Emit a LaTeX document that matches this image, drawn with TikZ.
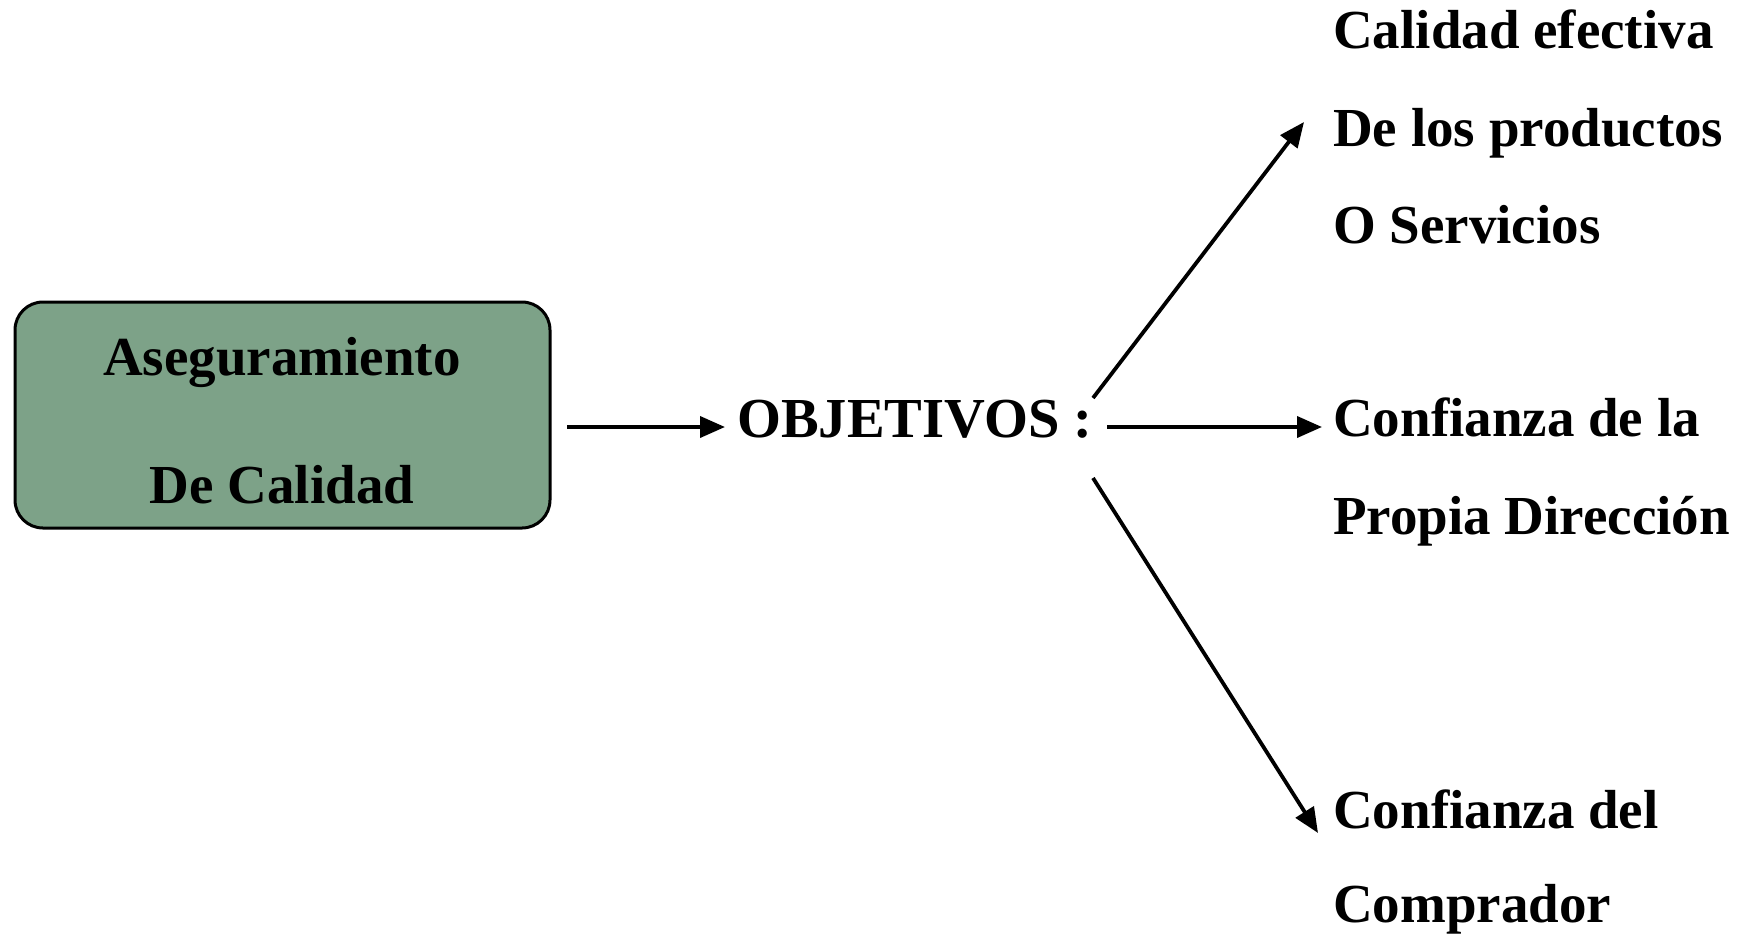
\documentclass[tikz,border=0pt]{standalone}
\usepackage{fontspec}
\setmainfont{Liberation Serif}
\usetikzlibrary{arrows.meta}
\definecolor{boxgreen}{RGB}{125,162,136}
\begin{document}
\begin{tikzpicture}[x=1pt,y=-1pt,
  txt/.style={font=\bfseries\fontsize{55}{66}\selectfont, inner sep=0pt, anchor=base west},
  ctxt/.style={txt, anchor=base},
  arr/.style={line width=3.8pt, -{Triangle[length=25pt,width=21pt]}}]
\useasboundingbox (0,0) rectangle (1753,938);

% main box
\node[draw=black, line width=3pt, fill=boxgreen, rounded corners=28pt,
      minimum width=535pt, minimum height=226pt, inner sep=0pt] (box) at (282.5,415) {};
\node[ctxt] (b1) at (282,375) {Aseguramiento};
\node[ctxt] (b2) at (282,503) {De Calidad};

% centre label
\node[txt, font=\bfseries\fontsize{56.5}{66}\selectfont] (obj) at (737,437) {OBJETIVOS :};

% objectives
\node[txt] (c1) at (1333,48)  {Calidad efectiva};
\node[txt] (c2) at (1333,146) {De los productos};
\node[txt] (c3) at (1333,243) {O Servicios};
\node[txt] (p1) at (1333,436) {Confianza de la};
\node[txt] (p2) at (1333,534) {Propia Dirección};
\node[txt] (d1) at (1333,828) {Confianza del};
\node[txt] (d2) at (1333,922) {Comprador};

% arrow ends
\coordinate (bs) at (567,427);
\coordinate (be) at (725,427);
\coordinate (us) at (1093,398);
\coordinate (ue) at (1304,122);
\coordinate (ms) at (1107,427);
\coordinate (me) at (1322,427);
\coordinate (ls) at (1093,478);
\coordinate (le) at (1318,833);

\draw[arr] (bs) -- (be);
\draw[arr] (us) -- (ue);
\draw[arr] (ms) -- (me);
\draw[arr] (ls) -- (le);
\end{tikzpicture}
\end{document}
